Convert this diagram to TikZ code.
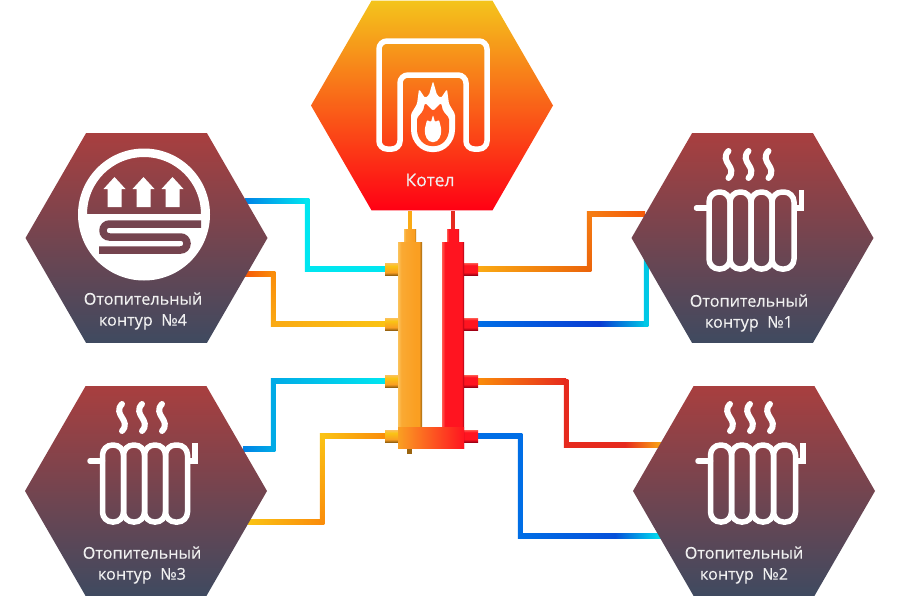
\documentclass[tikz,border=0pt]{standalone}
\usepackage{fontspec}
\setmainfont[FakeBold=0.25]{Open Sans}
\usetikzlibrary{positioning,calc,backgrounds,shapes.geometric}
\definecolor{hextop}{HTML}{A83F3F}
\definecolor{hexbottom}{HTML}{3F4A60}
\definecolor{boilertop}{HTML}{F4C41C}
\definecolor{boilermid}{HTML}{FF701E}
\definecolor{boilerbottom}{HTML}{FF0014}
\definecolor{pcyan}{HTML}{00E6F0}
\definecolor{paqua}{HTML}{00C8E6}
\definecolor{psky}{HTML}{00AAE6}
\definecolor{pblue}{HTML}{0082E6}
\definecolor{pazure}{HTML}{006EE6}
\definecolor{pdeep}{HTML}{0A3CD2}
\definecolor{pscarlet}{HTML}{F55A0A}
\definecolor{pdusk}{HTML}{EB640A}
\definecolor{ptangerine}{HTML}{F57D14}
\definecolor{porange}{HTML}{FA8C0A}
\definecolor{pamber}{HTML}{FAAA14}
\definecolor{pyellow}{HTML}{FAC314}
\definecolor{pred}{HTML}{E62A1E}
\definecolor{stripe}{HTML}{75444F}
\definecolor{flameback}{HTML}{FF5A1E}
\definecolor{colllight}{HTML}{FBC25A}
\definecolor{collmid}{HTML}{FA9F22}
\definecolor{colldark}{HTML}{9A6410}
\definecolor{redlight}{HTML}{FF5A50}
\definecolor{redmid}{HTML}{FF1420}
\definecolor{reddark}{HTML}{A00014}
\pgfdeclarehorizontalshading{columnorange}{100bp}{color(0bp)=(colllight);color(25bp)=(colllight);color(32bp)=(collmid!70!colllight);color(62bp)=(collmid);color(69bp)=(collmid);color(75bp)=(colldark);color(100bp)=(colldark)}
\pgfdeclarehorizontalshading{columnred}{100bp}{color(0bp)=(redlight);color(25bp)=(redlight);color(32bp)=(redmid);color(66bp)=(redmid);color(70bp)=(redmid);color(75bp)=(reddark);color(100bp)=(reddark)}
\pgfdeclareverticalshading{portorange}{100bp}{color(0bp)=(colldark);color(25bp)=(colldark);color(36bp)=(collmid);color(62bp)=(pyellow);color(75bp)=(colllight);color(100bp)=(colllight)}
\pgfdeclareverticalshading{portred}{100bp}{color(0bp)=(reddark);color(25bp)=(reddark);color(36bp)=(redmid);color(66bp)=(redmid);color(75bp)=(redlight);color(100bp)=(redlight)}
% one straight piece of a pipe, left to right or top to bottom
\newcommand{\pipeh}[4]{\shade[left color=#3,right color=#4] ($(#1)+(0,-2.25)$) rectangle ($(#2)+(0,2.25)$);}
\newcommand{\pipev}[4]{\shade[top color=#3,bottom color=#4] ($(#1)+(-2.25,-2.25)$) rectangle ($(#2)+(2.25,2.25)$);}
\begin{document}
\begin{tikzpicture}[
  x=1pt, y=-1pt,
  hexnode/.style={regular polygon, regular polygon sides=6, minimum size=242pt, inner sep=0pt, top color=hextop, bottom color=hexbottom},
  boilernode/.style={hexnode, top color=boilertop, middle color=boilermid, bottom color=boilerbottom},
  lbl/.style={font=\fontsize{16.2}{21}\selectfont, text=white!94!black, align=center, inner sep=0pt},
  icon/.style={draw=white, line width=5.5pt},
  pipeline/.style={line width=4pt},
  portl/.style={rectangle, minimum width=13pt, minimum height=12pt, inner sep=0pt, shading=portorange},
  portr/.style={rectangle, minimum width=14pt, minimum height=12pt, inner sep=0pt, shading=portred},
  capl/.style={rectangle, minimum width=12pt, minimum height=13pt, inner sep=0pt, shading=columnorange},
  capr/.style={rectangle, minimum width=12pt, minimum height=13pt, inner sep=0pt, shading=columnred},
  radiator/.pic={
    \foreach \wa/\wb in {-43.5/-22.5,-22.5/-1.5,-1.5/19.5,19.5/41.5}
      \draw[icon, rounded corners=10pt] (\wa,-46) rectangle (\wb,31);
    \foreach \sx in {-24,-4,16}
      \draw[icon, line width=6pt, line cap=round] (\sx,-87) .. controls ({\sx-10},-76) and ({\sx+10},-71) .. (\sx,-60);
    \draw[icon, line cap=round] (-56,-30) -- (-43.5,-30);
    \draw[icon] (41.5,-30) -- (49,-30) -- (49,-48);
  }
]
  \useasboundingbox (0,0) rectangle (900,600);

  % hexagons
  \node[boilernode] (h0) at (432,105.5) {};
  \node[hexnode] (h1) at (752.5,238) {};
  \node[hexnode] (h2) at (754,491) {};
  \node[hexnode] (h3) at (146,491) {};
  \node[hexnode] (h4) at (146.5,238) {};

  \node[lbl, font=\fontsize{17.5}{20}\selectfont] (t0) at (430,180) {Котел};
  \node[lbl] (t1) at (749,313) {Отопительный\\контур~~№1};
  \node[lbl] (t2) at (744,565) {Отопительный\\контур~~№2};
  \node[lbl] (t3) at (142,565) {Отопительный\\контур~~№3};
  \node[lbl] (t4) at (143,311) {Отопительный\\контур~~№4};

  % radiators
  \pic at (h1) {radiator};
  \pic at (h2) {radiator};
  \pic at (h3) {radiator};

  % floor heating
  \fill[white, even odd rule] (144,214.5) circle[radius=66pt]
    (87,214) arc[start angle=180, end angle=0, radius=57pt] -- cycle;
  \foreach \ax in {114.5,143.5,172.5}
    \fill[white] (\ax,177) -- ({\ax+11},189) -- ({\ax+7},189) -- ({\ax+7},207) -- ({\ax-7},207) -- ({\ax-7},189) -- ({\ax-11},189) -- cycle;
  \draw[stripe, line width=7.5pt, rounded corners=6.4pt] (201,224) -- (103,224) -- (103,237) -- (187,237) -- (187,250) -- (99,250);

  % boiler
  \draw[icon, rounded corners=8pt] (400,149) -- (400,75) -- (466,75) -- (466,149) -- (487,149) -- (487,41) -- (379,41) -- (379,149) -- cycle;
  \fill[white, rounded corners=1.5pt] (433,81) -- (437,95) -- (441,98) -- (447,89) -- (449,104) -- (455,114) -- (455,128)
    .. controls (455,142) and (445,152) .. (433,152) .. controls (421,152) and (411,142) .. (411,128) -- (411,114) -- (417,104) -- (419,89) -- (425,98) -- (429,95) -- cycle;
  \fill[flameback, rounded corners=1.5pt] (425,103) -- (433,111) -- (441,103) -- (443,111) -- (449,118) -- (449,128)
    .. controls (449,139) and (442,146) .. (433,146) .. controls (424,146) and (417,139) .. (417,128) -- (417,118) -- (423,111) -- cycle;
  \fill[white, rounded corners=1pt] (433,115) -- (435,122) -- (439,120) -- (441,128) .. controls (442,136) and (438,142) .. (433,142) .. controls (428,142) and (424,136) .. (425,128) -- (427,120) -- (431,122) -- cycle;

  % hydraulic separator
  \foreach \nm/\yy in {a/269,b/324,c/381,d/436} {
    \node[portl] (pl\nm) at (391.5,\yy) {};
    \node[portr] (pr\nm) at (471,\yy) {};
  }
  \node[capl] (capl) at (410,235.5) {};
  \node[capr] (capr) at (453,235.5) {};
  \node[rectangle, minimum width=5pt, minimum height=8pt, inner sep=0pt, fill=colldark] (drain) at (409.5,450) {};
  \node[rectangle, minimum width=24pt, minimum height=206pt, inner sep=0pt, shading=columnorange] (coll) at (410,345) {};
  \node[rectangle, minimum width=22pt, minimum height=206pt, inner sep=0pt, shading=columnred] (colr) at (453,345) {};
  \node[rectangle, minimum width=66pt, minimum height=21pt, inner sep=0pt, left color=collmid, middle color=collmid!50!redmid, right color=redmid] (bridge) at (431,437.5) {};

  % pipes, under everything else
  \begin{scope}[on background layer]
    \draw[pipeline, draw=pamber] (capl.north) -- (capl.north |- h0.south);
    \draw[pipeline, draw=pred] (capr.north) -- (capr.north |- h0.south);

    \coordinate (e4a) at (245,201); \coordinate (k4a) at (307,201); \coordinate (j4a) at (307,269);
    \draw[pipeline, draw=psky] (pla.west) -- (j4a) -- (k4a) -- (e4a);
    \pipeh{e4a}{k4a}{pblue}{pcyan} \pipev{k4a}{j4a}{pcyan}{pcyan} \pipeh{j4a}{pla.west}{pcyan}{pcyan}

    \coordinate (e4b) at (245,274); \coordinate (k4b) at (273,274); \coordinate (j4b) at (273,324);
    \draw[pipeline, draw=porange] (plb.west) -- (j4b) -- (k4b) -- (e4b);
    \pipeh{e4b}{k4b}{pscarlet}{porange} \pipev{k4b}{j4b}{porange}{pamber} \pipeh{j4b}{plb.west}{pamber}{pyellow}

    \coordinate (e3a) at (243,449); \coordinate (k3a) at (273,449); \coordinate (j3a) at (273,381);
    \draw[pipeline, draw=psky] (plc.west) -- (j3a) -- (k3a) -- (e3a);
    \pipeh{e3a}{k3a}{pblue}{psky} \pipev{j3a}{k3a}{psky}{psky} \pipeh{j3a}{plc.west}{psky}{pcyan}

    \coordinate (e3b) at (248,522); \coordinate (k3b) at (322,522); \coordinate (j3b) at (322,436);
    \draw[pipeline, draw=pamber] (pld.west) -- (j3b) -- (k3b) -- (e3b);
    \pipeh{e3b}{k3b}{pyellow}{porange} \pipev{j3b}{k3b}{pyellow}{porange} \pipeh{j3b}{pld.west}{pyellow}{porange}

    \coordinate (e1a) at (645,214); \coordinate (k1a) at (589,214); \coordinate (j1a) at (589,269);
    \draw[pipeline, draw=ptangerine] (pra.east) -- (j1a) -- (k1a) -- (e1a);
    \pipeh{pra.east}{j1a}{pamber}{pdusk} \pipev{k1a}{j1a}{ptangerine}{pdusk} \pipeh{k1a}{e1a}{ptangerine}{pscarlet}

    \coordinate (e1b) at (646,258); \coordinate (k1b) at (646,324); \coordinate (m1b) at (600,324);
    \draw[pipeline, draw=pazure] (prb.east) -- (k1b) -- (e1b);
    \pipeh{prb.east}{m1b}{pazure}{pdeep} \pipeh{m1b}{k1b}{pdeep}{paqua} \pipev{e1b}{k1b}{paqua}{paqua}

    \coordinate (e2a) at (662,445); \coordinate (k2a) at (566,445); \coordinate (j2a) at (566,382); \coordinate (m2a) at (625,445);
    \draw[pipeline, draw=pred] (prc.east) -- (j2a) -- (k2a) -- (e2a);
    \pipeh{prc.east}{j2a}{porange}{pred} \pipev{j2a}{k2a}{pred}{pred} \pipeh{k2a}{m2a}{pred}{pred} \pipeh{m2a}{e2a}{pred}{pamber}

    \coordinate (e2b) at (662,536); \coordinate (k2b) at (520,536); \coordinate (j2b) at (520,436); \coordinate (m2b) at (615,536);
    \draw[pipeline, draw=pazure] (prd.east) -- (j2b) -- (k2b) -- (e2b);
    \pipeh{prd.east}{j2b}{pazure}{pazure} \pipev{j2b}{k2b}{pazure}{pazure} \pipeh{k2b}{m2b}{pazure}{pdeep!60!pazure} \pipeh{m2b}{e2b}{pdeep!60!pazure}{pcyan}
  \end{scope}
\end{tikzpicture}
\end{document}
